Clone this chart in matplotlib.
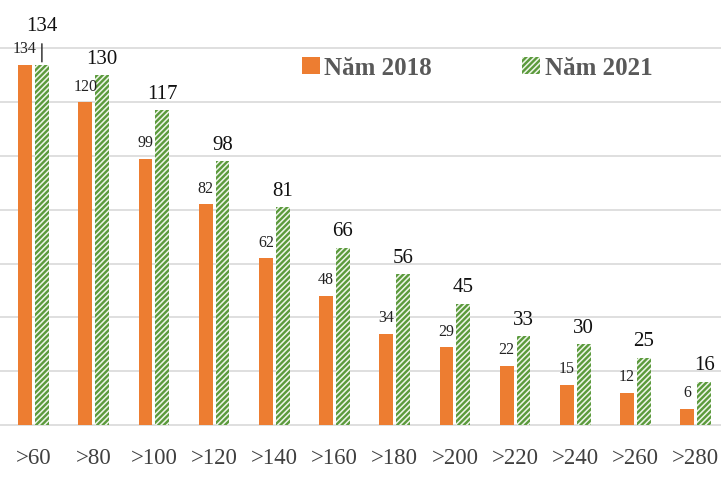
import numpy as np
import matplotlib
matplotlib.use("Agg")
import matplotlib.pyplot as plt

categories = [">60", ">80", ">100", ">120", ">140", ">160", ">180", ">200", ">220", ">240", ">260", ">280"]
values_2018 = [134, 120, 99, 82, 62, 48, 34, 29, 22, 15, 12, 6]
values_2021 = [134, 130, 117, 98, 81, 66, 56, 45, 33, 30, 25, 16]

orange = "#ED7D31"
green = "#5B9A3C"

plt.rcParams["font.family"] = ["Liberation Serif", "DejaVu Serif"]
plt.rcParams["hatch.linewidth"] = 1.7

fig = plt.figure(figsize=(7.21, 4.81), dpi=100)
ax = fig.add_axes([0, 55 / 481, 1, 426 / 481])

x = np.arange(len(categories))
w = 0.23
off = 0.14
ax.bar(x - off, values_2018, w, color=orange, label="Năm 2018", zorder=3)
ax.bar(x + off, values_2021, w, facecolor="#EEF5E9", edgecolor=green, linewidth=0,
       hatch="//////", label="Năm 2021", zorder=3)

ax.set_xlim(-0.556, 11.42)
ax.set_ylim(0, 158.4)
ax.set_yticks(np.arange(20, 141, 20))
ax.yaxis.grid(True, color="#D9D9D9", linewidth=1.2, zorder=0)
ax.tick_params(axis="y", length=0, labelleft=False)
ax.set_xticks(x)
ax.set_xticklabels(categories, fontsize=16.5, color="#404040")
ax.tick_params(axis="x", length=0, pad=16)
for s in ["top", "right", "left"]:
    ax.spines[s].set_visible(False)
ax.spines["bottom"].set_color("#D9D9D9")
ax.spines["bottom"].set_linewidth(1.2)

for i, v in enumerate(values_2018):
    ax.annotate(str(v), (x[i] - off, v), xytext=(0, 9), textcoords="offset points",
                ha="center", va="baseline", fontsize=11.5, color="#222222")
for i, v in enumerate(values_2021):
    dy = 9
    if i == 0:
        dy = 25
        ax.annotate("", (x[i] + off, v), xytext=(0, 17), textcoords="offset points",
                    arrowprops=dict(arrowstyle="-", color="#222222", lw=1))
    ax.annotate(str(v), (x[i] + off, v), xytext=(0, dy), textcoords="offset points",
                ha="center", va="baseline", fontsize=15, color="#111111")

leg = ax.legend(loc="upper left", bbox_to_anchor=(292 / 721, 1 - 47 / 481),
                bbox_transform=fig.transFigure, ncol=2, frameon=False,
                prop={"family": "Liberation Serif", "weight": "bold", "size": 18},
                handlelength=0.7, handleheight=0.7, handletextpad=0.2,
                columnspacing=3.6, borderaxespad=0)
for t in leg.get_texts():
    t.set_color("#595959")

fig.savefig("out.png", dpi=100)
